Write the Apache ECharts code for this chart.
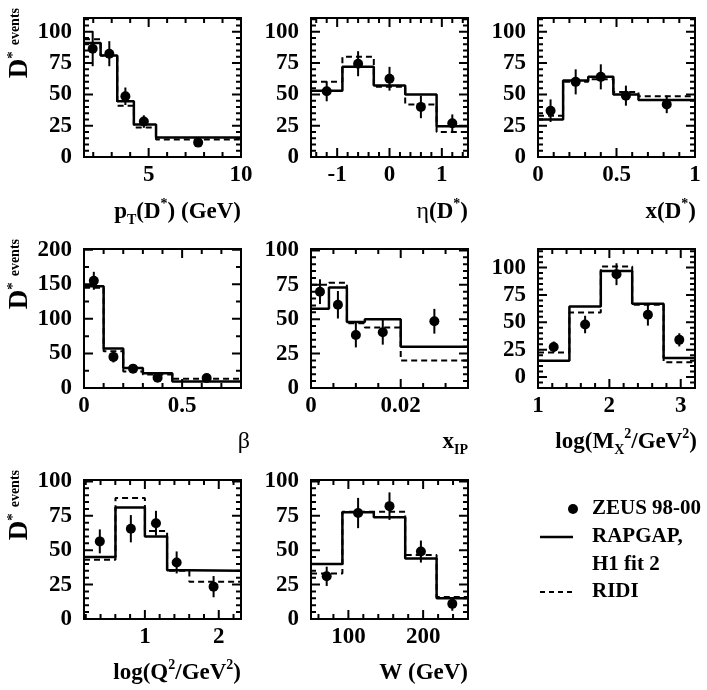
<!DOCTYPE html>
<html><head><meta charset="utf-8">
<script src="https://cdn.jsdelivr.net/npm/echarts@6/dist/echarts.min.js"></script>
<style>html,body{margin:0;padding:0;background:#fff}#c{width:707px;height:690px}</style>
</head><body><div id="c"></div>
<script>
// ---------- DATA ----------
// pT(D*)
const pt_edges  = [1.5, 2.4, 3.3, 4.2, 5.4, 10];
const pt_rapgap = [91, 81, 44.5, 26, 15.5];
const pt_ridi   = [94, 81, 41, 23.5, 14];
const pt_x      = [1.97, 2.87, 3.74, 4.74, 7.68];
const pt_y      = [86.5, 82.5, 48.5, 28.3, 11.5];
const pt_err    = [14, 10, 7, 5, 3];
// eta(D*)
const eta_edges  = [-1.5, -0.9, -0.3, 0.3, 0.9, 1.5];
const eta_rapgap = [53, 72, 57, 50, 24.5];
const eta_ridi   = [60, 80, 56, 42, 20];
const eta_x      = [-1.2, -0.6, 0, 0.6, 1.2];
const eta_y      = [52.5, 74.5, 62.5, 40, 27];
const eta_err    = [8, 10, 9.5, 9, 7];
// x(D*)
const xd_edges  = [0, 0.16, 0.32, 0.48, 0.64, 1];
const xd_rapgap = [30, 61, 64, 50, 45.5];
const xd_ridi   = [33, 60, 62, 52, 48.5];
const xd_x      = [0.08, 0.24, 0.40, 0.56, 0.82];
const xd_y      = [37, 60, 64, 49, 42];
const xd_err    = [9, 10, 10, 8, 7];
// beta
const beta_edges  = [0, 0.1, 0.2, 0.3, 0.45, 0.8];
const beta_rapgap = [147, 57, 29, 21.5, 9.5];
const beta_ridi   = [145, 53, 24, 19.5, 13.5];
const beta_x      = [0.05, 0.15, 0.25, 0.375, 0.625];
const beta_y      = [155, 45, 28, 15, 14.5];
const beta_err    = [13, 8, 4, 4, 4];
// x_IP
const xip_edges  = [0, 0.004, 0.008, 0.012, 0.02, 0.035];
const xip_rapgap = [57.5, 73, 48, 50, 30];
const xip_ridi   = [75, 76.5, 47, 44, 20];
const xip_x      = [0.002, 0.006, 0.010, 0.016, 0.0275];
const xip_y      = [70, 60.5, 38.5, 40.5, 48.5];
const xip_err    = [9, 10, 9, 9, 9];
// log(MX^2)
const mx_edges  = [1, 1.44, 1.88, 2.32, 2.76, 3.2];
const mx_rapgap = [15, 64.5, 97, 67, 17.5];
const mx_ridi   = [22.5, 59, 101, 66, 13.5];
const mx_x      = [1.22, 1.66, 2.10, 2.54, 2.98];
const mx_y      = [27.5, 48, 94, 57, 34];
const mx_err    = [5, 8, 10, 10, 6];
// log(Q^2)
const q2_edges  = [0.176, 0.602, 1.0, 1.301, 1.602, 2.301];
const q2_rapgap = [45, 81, 60, 35.4, 35];
const q2_ridi   = [43, 88, 64, 35, 27];
const q2_x      = [0.39, 0.81, 1.15, 1.43, 1.93];
const q2_y      = [56.4, 65.6, 69.6, 41.1, 23.5];
const q2_err    = [8.7, 9.9, 9, 8, 7.7];
// W
const w_edges  = [50, 92, 134, 176, 218, 260];
const w_rapgap = [40, 77.5, 74, 44, 15];
const w_ridi   = [33, 78, 78, 46.5, 16];
const w_x      = [71, 113, 155, 197, 239];
const w_y      = [31, 77, 82, 49, 11];
const w_err    = [7, 11, 10, 8, 5];

// ---------- LAYOUT ----------
const FONT = '"Liberation Serif", "Times New Roman", serif';
const COLS = [84, 311, 538];
const ROWS = [18, 249, 480];
const GW = 157, GH = 139;
const MAJOR_LEN = 9, MINOR_LEN = 5;

const panels = [
  {edges:pt_edges, rap:pt_rapgap, ridi:pt_ridi, x:pt_x, y:pt_y, err:pt_err, col:0,row:0,
   xr:[1.5,10], xmaj:5, xmin:1, yr:[0,111], ymaj:25, ymin:5},
  {edges:eta_edges, rap:eta_rapgap, ridi:eta_ridi, x:eta_x, y:eta_y, err:eta_err, col:1,row:0,
   xr:[-1.5,1.5], xmaj:1, xmin:0.2, yr:[0,111], ymaj:25, ymin:5},
  {edges:xd_edges, rap:xd_rapgap, ridi:xd_ridi, x:xd_x, y:xd_y, err:xd_err, col:2,row:0,
   xr:[0,1], xmaj:0.5, xmin:0.1, yr:[0,111], ymaj:25, ymin:5},
  {edges:beta_edges, rap:beta_rapgap, ridi:beta_ridi, x:beta_x, y:beta_y, err:beta_err, col:0,row:1,
   xr:[0,0.8], xmaj:0.5, xmin:0.1, yr:[0,201], ymaj:50, ymin:25},
  {edges:xip_edges, rap:xip_rapgap, ridi:xip_ridi, x:xip_x, y:xip_y, err:xip_err, col:1,row:1,
   xr:[0,0.035], xmaj:0.02, xmin:0.005, yr:[0,101], ymaj:25, ymin:5},
  {edges:mx_edges, rap:mx_rapgap, ridi:mx_ridi, x:mx_x, y:mx_y, err:mx_err, col:2,row:1,
   xr:[1,3.2], xmaj:1, xmin:0.2, yr:[-10,117], ymaj:25, ymin:5},
  {edges:q2_edges, rap:q2_rapgap, ridi:q2_ridi, x:q2_x, y:q2_y, err:q2_err, col:0,row:2,
   xr:[0.176,2.301], xmaj:1, xmin:0.2, yr:[0,101], ymaj:25, ymin:5},
  {edges:w_edges, rap:w_rapgap, ridi:w_ridi, x:w_x, y:w_y, err:w_err, col:1,row:2,
   xr:[50,260], xmaj:100, xmin:20, yr:[0,101], ymaj:25, ymin:5}
];

function tickVals(min, max, step) {
  const out = [];
  const k0 = Math.ceil(min / step - 1e-9), k1 = Math.floor(max / step + 1e-9);
  for (let k = k0; k <= k1; k++) out.push(parseFloat((k * step).toFixed(6)));
  return out;
}
function minorVals(min, max, step, majors) {
  return tickVals(min, max, step).filter(v => !majors.some(m => Math.abs(m - v) < 1e-9));
}

const grids = [], xAxes = [], yAxes = [], series = [];
const labelStyle = {fontFamily: FONT, fontWeight: 'bold', fontSize: 23, color: '#000'};

function mkAxis(dim, gi, range, vals) {
  return {
    type: 'value', gridIndex: gi, min: range[0], max: range[1],
    position: dim === 'x' ? 'bottom' : 'left',
    axisLine: {show: false, onZero: false},
    splitLine: {show: false},
    axisTick: {show: false},
    axisLabel: Object.assign({show: true, customValues: vals,
               margin: dim === 'x' ? 7 : 12, formatter: v => String(v)}, labelStyle)
  };
}

panels.forEach((p, i) => {
  grids.push({left: COLS[p.col], top: ROWS[p.row], width: GW, height: GH,
              show: true, borderColor: '#000', borderWidth: 2});
  p.xM = tickVals(p.xr[0], p.xr[1], p.xmaj); p.xm = minorVals(p.xr[0], p.xr[1], p.xmin, p.xM);
  p.yM = tickVals(p.yr[0], p.yr[1], p.ymaj); p.ym = minorVals(p.yr[0], p.yr[1], p.ymin, p.yM);
  xAxes.push(mkAxis('x', i, p.xr, p.xM));
  yAxes.push(mkAxis('y', i, p.yr, p.yM));
  const ax = {xAxisIndex: i, yAxisIndex: i};

  // inside tick marks drawn as a broken line series through the axis scales
  const kx = (p.xr[1] - p.xr[0]) / GW, ky = (p.yr[1] - p.yr[0]) / GH;  // data units per pixel
  const gap = [null, null];
  const tk = [];
  const addX = (v, L) => { tk.push([v, p.yr[0]], [v, p.yr[0] + L * ky], gap, [v, p.yr[1]], [v, p.yr[1] - L * ky], gap); };
  const addY = (v, L) => { tk.push([p.xr[0], v], [p.xr[0] + L * kx, v], gap, [p.xr[1], v], [p.xr[1] - L * kx, v], gap); };
  p.xM.forEach(v => addX(v, MAJOR_LEN)); p.xm.forEach(v => addX(v, MINOR_LEN));
  p.yM.forEach(v => addY(v, MAJOR_LEN)); p.ym.forEach(v => addY(v, MINOR_LEN));
  series.push(Object.assign({type: 'line', name: 'ticks', symbol: 'none', silent: true, z: 6,
    clip: false, connectNulls: false, data: tk, lineStyle: {color: '#000', width: 2}}, ax));

  const stepData = (edges, vals) => edges.map((e, k) => [e, vals[Math.min(k, vals.length - 1)]]);
  series.push(Object.assign({type: 'line', name: 'RIDI', step: 'end', symbol: 'none', silent: true,
    data: stepData(p.edges, p.ridi), lineStyle: {color: '#000', width: 2, type: [6, 4]}, z: 2}, ax));
  series.push(Object.assign({type: 'line', name: 'RAPGAP, H1 fit 2', step: 'end', symbol: 'none', silent: true,
    data: stepData(p.edges, p.rap), lineStyle: {color: '#000', width: 2.5}, z: 3}, ax));
  series.push(Object.assign({type: 'custom', name: 'err', silent: true, z: 4,
    data: p.x.map((x, k) => [x, p.y[k], p.err[k]]),
    encode: {x: 0, y: 1},
    renderItem: (params, api) => {
      const x = api.value(0), y = api.value(1), e = api.value(2);
      const a = api.coord([x, y - e]), b = api.coord([x, y + e]);
      return {type: 'line', shape: {x1: a[0], y1: a[1], x2: b[0], y2: b[1]},
              style: {stroke: '#000', lineWidth: 2}};
    }}, ax));
  series.push(Object.assign({type: 'scatter', name: 'ZEUS 98-00', symbol: 'circle', symbolSize: 10, silent: true,
    itemStyle: {color: '#000', opacity: 1}, z: 5, data: p.x.map((x, k) => [x, p.y[k]])}, ax));
});

// ---------- TEXT / LEGEND ----------
const rich = {
  b:   {fontFamily: FONT, fontWeight: 'bold', fontSize: 23, lineHeight: 30, color: '#000'},
  n:   {fontFamily: FONT, fontSize: 24, lineHeight: 30, color: '#000'},
  sub: {fontFamily: FONT, fontWeight: 'bold', fontSize: 14, lineHeight: 14, verticalAlign: 'bottom', color: '#000'},
  sup: {fontFamily: FONT, fontWeight: 'bold', fontSize: 14, lineHeight: 14, verticalAlign: 'top', color: '#000'}
};
function title(text, x, y) {
  return {type: 'text', x: x, y: y, silent: true,
    style: {text: text, rich: rich, align: 'right', verticalAlign: 'middle'}};
}
const yRich = {
  d: {fontFamily: FONT, fontWeight: 'bold', fontSize: 27, lineHeight: 28, color: '#000'},
  s: {fontFamily: FONT, fontWeight: 'bold', fontSize: 15, lineHeight: 15, verticalAlign: 'top', color: '#000'},
  e: {fontFamily: FONT, fontWeight: 'bold', fontSize: 14, lineHeight: 18, verticalAlign: 'top', padding: [2, 0, 0, 6], color: '#000'}
};
function ytitle(top) {
  return {type: 'text', x: 20, y: top - 10, rotation: Math.PI / 2, silent: true,
    style: {text: '{d|D}{s|*}{e|events}', rich: yRich, align: 'right', verticalAlign: 'middle'}};
}
const legFont = {fontFamily: FONT, fontWeight: 'bold', fontSize: 21, fill: '#000'};
function legText(t, y) {
  return {type: 'text', x: 592, y: y, silent: true,
    style: Object.assign({text: t, align: 'left', verticalAlign: 'middle'}, legFont)};
}

const graphic = [
  title('{b|p}{sub|T}{b|(D}{sup|*}{b|) (GeV)}', 241, 212),
  title('{n|η}{b|(D}{sup|*}{b|)}', 468, 212),
  title('{b|x(D}{sup|*}{b|)}', 696, 212),
  title('{n|β}', 250, 442),
  title('{b|x}{sub|IP}', 468, 442),
  title('{b|log(M}{sub|X}{sup|2}{b|/GeV}{sup|2}{b|)}', 697, 442),
  title('{b|log(Q}{sup|2}{b|/GeV}{sup|2}{b|)}', 241, 673),
  title('{b|W (GeV)}', 468, 673),
  ytitle(ROWS[0]), ytitle(ROWS[1]), ytitle(ROWS[2]),
  {type: 'circle', shape: {cx: 573, cy: 509, r: 5}, style: {fill: '#000'}, silent: true},
  {type: 'line', shape: {x1: 540, y1: 537, x2: 573, y2: 537}, style: {stroke: '#000', lineWidth: 2.5}, silent: true},
  {type: 'line', shape: {x1: 540, y1: 592, x2: 573, y2: 592}, style: {stroke: '#000', lineWidth: 2, lineDash: [5, 4]}, silent: true},
  legText('ZEUS 98-00', 509),
  legText('RAPGAP,', 537),
  legText('H1 fit 2', 565),
  legText('RIDI', 592)
];

const chart = echarts.init(document.getElementById('c'), null, {renderer: 'canvas'});
chart.setOption({
  animation: false,
  backgroundColor: '#fff',
  grid: grids, xAxis: xAxes, yAxis: yAxes, series: series, graphic: graphic
});
</script></body></html>
